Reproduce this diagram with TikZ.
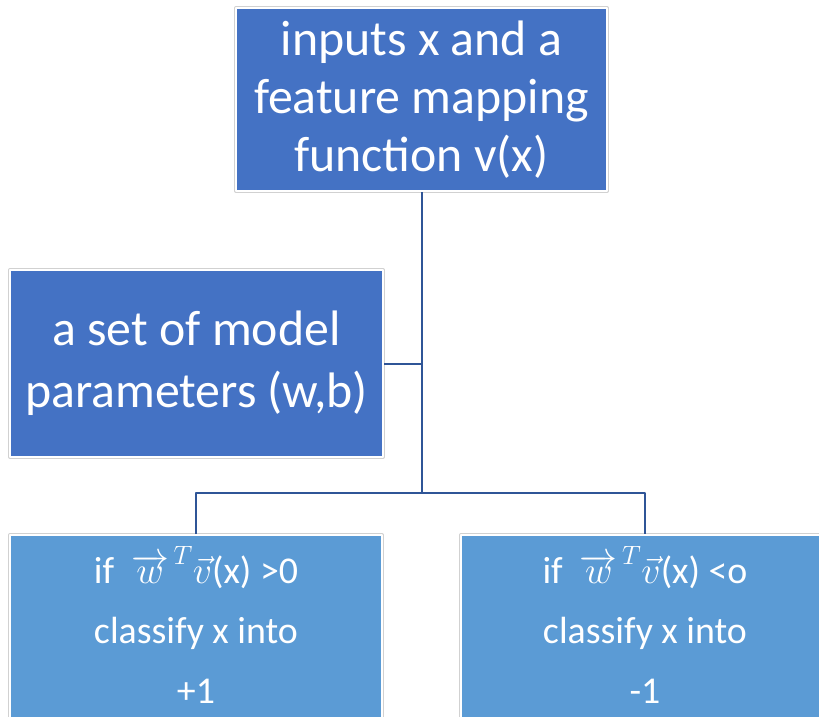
\documentclass[tikz,border=0pt]{standalone}
\usepackage{fix-cm}
\usepackage{fontspec}
\setmainfont{Carlito}
\definecolor{darkbox}{RGB}{68,114,196}
\definecolor{lightbox}{RGB}{91,155,213}
\definecolor{wire}{RGB}{47,85,151}
\newcommand\lowgap{\rule[-12bp]{0pt}{0pt}}
\tikzset{
  box/.style={rectangle,fill=#1,text=white,align=center,inner sep=0pt,
    preaction={draw=black!18,line width=4bp},draw=white,line width=2bp},
  wiring/.style={draw=wire,line width=2bp}
}
\begin{document}
\begin{tikzpicture}[x=1bp,y=-1bp,line join=round]
	\clip (0,0) rectangle (819,717);
	\fill[white] (0,0) rectangle (819,717);
	\path (421.5,99.5) coordinate (I)
	(196.5,363.5) coordinate (P)
	(196,631) coordinate (L)
	(645,631) coordinate (R)
	;
	\node[box=darkbox,minimum width=371bp,minimum height=183bp,
	  font=\fontsize{50}{58}\selectfont] (inp) at (I)
	  {inputs x and a\\feature mapping\\function v(x)};
	\node[box=darkbox,minimum width=373bp,minimum height=187bp,
	  font=\fontsize{50}{62}\selectfont] (par) at (P)
	  {a set of model\\parameters (w,b)};
	\node[box=lightbox,minimum width=372bp,minimum height=192bp,
	  font=\fontsize{38}{60}\selectfont] (pos) at (L)
	  {if\ \ ${\overrightarrow{w}}^{\,T}\vec{v}$(x) >0\\classify x into\\+1\lowgap};
	\node[box=lightbox,minimum width=368bp,minimum height=192bp,
	  font=\fontsize{38}{60}\selectfont] (neg) at (R)
	  {if\ \ ${\overrightarrow{w}}^{\,T}\vec{v}$(x) <o\\classify x into\\-1\lowgap};
	% tree connectors
	\coordinate (J) at (inp.south |- 0,493);
	\draw[wiring] (inp.south)--(J);
	\draw[wiring] (par.east)--(par.east -| inp.south);
	\draw[wiring] (pos.north)|-(J)-|(neg.north);
\end{tikzpicture}
\end{document}
